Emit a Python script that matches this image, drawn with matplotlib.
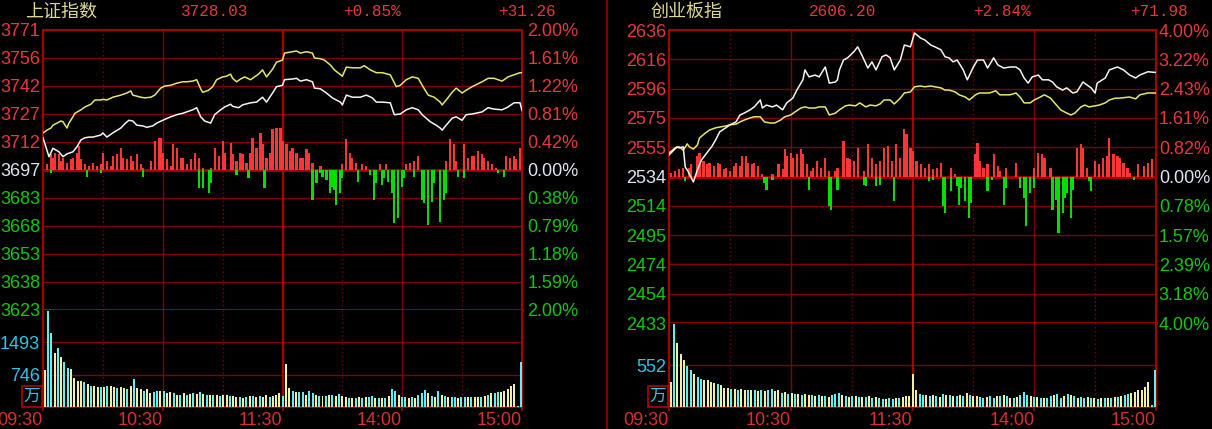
import numpy as np
import matplotlib.pyplot as plt
from matplotlib.lines import Line2D
from matplotlib.patches import Rectangle

plt.rcParams['font.family'] = ['Liberation Sans', 'Noto Sans CJK SC', 'DejaVu Sans']

# ---------------- 上证指数 ----------------
sh_name = '上证指数'
sh_head = ['3728.03', '+0.85%', '+31.26']
sh_left = ['3771', '3756', '3742', '3727', '3712', '3697', '3683', '3668', '3653', '3638', '3623']
sh_right = ['2.00%', '1.61%', '1.22%', '0.81%', '0.42%', '0.00%', '0.38%', '0.79%', '1.18%', '1.59%', '2.00%']
sh_range = 2.0

# index line (minute, % change)
sh_t = [0, 3, 5, 8, 10, 12, 15, 17, 19, 21, 23, 25, 29, 30, 32, 35, 39, 41, 43, 45,
        47, 50, 52, 55, 57, 60, 64, 67, 70, 72, 75, 77, 79, 81, 84, 86, 89, 91, 94, 95,
        98, 100, 104, 107, 110, 112, 115, 117, 120, 121, 125, 127, 129, 132, 135, 136, 139, 142, 145, 149,
        150, 152, 155, 159, 162, 165, 167, 170, 174, 176, 179, 182, 185, 188, 190, 194, 197, 199, 200, 202,
        205, 207, 210, 212, 215, 220, 223, 226, 230, 233, 236, 239, 240]
sh_pct = [0.46, 0.19, 0.31, 0.26, 0.19, 0.23, 0.26, 0.33, 0.43, 0.46, 0.47, 0.47, 0.50, 0.53, 0.47, 0.53, 0.60, 0.66, 0.71, 0.70,
          0.64, 0.63, 0.61, 0.63, 0.67, 0.71, 0.76, 0.79, 0.81, 0.83, 0.86, 0.89, 0.76, 0.70, 0.67, 0.79, 0.86, 0.90, 0.94, 0.91,
          0.89, 0.93, 0.96, 0.97, 1.04, 0.97, 1.10, 1.19, 1.21, 1.29, 1.30, 1.31, 1.27, 1.29, 1.26, 1.17, 1.16, 1.10, 1.03, 0.97,
          0.93, 1.07, 1.04, 1.04, 1.07, 1.03, 0.97, 0.97, 0.96, 0.79, 0.80, 0.86, 0.89, 0.86, 0.79, 0.69, 0.64, 0.60, 0.57, 0.64,
          0.74, 0.76, 0.71, 0.79, 0.80, 0.83, 0.89, 0.87, 0.86, 0.90, 0.96, 0.96, 0.85]
# average line
sh_avg_t = [0, 2, 4, 5, 7, 9, 10, 12, 13, 15, 16, 19, 21, 24, 26, 29, 30, 32, 35, 39,
            42, 44, 45, 49, 51, 54, 56, 59, 61, 64, 67, 70, 72, 75, 77, 79, 80, 83, 85, 87,
            90, 92, 94, 95, 97, 99, 101, 104, 106, 108, 110, 112, 115, 117, 120, 121, 125, 127, 129, 132,
            135, 136, 139, 141, 144, 146, 150, 152, 155, 159, 161, 164, 167, 170, 174, 177, 179, 182, 185, 188,
            190, 193, 196, 199, 200, 202, 205, 207, 210, 212, 215, 220, 223, 226, 230, 233, 236, 239, 240]
sh_avg_pct = [0.53, 0.57, 0.60, 0.64, 0.67, 0.70, 0.69, 0.60, 0.67, 0.76, 0.81, 0.86, 0.90, 0.94, 1.00, 1.00, 1.01, 1.00, 1.04, 1.07,
              1.10, 1.13, 1.07, 1.04, 1.03, 1.04, 1.07, 1.17, 1.20, 1.21, 1.24, 1.26, 1.26, 1.27, 1.29, 1.16, 1.11, 1.14, 1.19, 1.29,
              1.33, 1.34, 1.37, 1.31, 1.26, 1.30, 1.33, 1.29, 1.33, 1.37, 1.43, 1.33, 1.44, 1.54, 1.57, 1.67, 1.69, 1.70, 1.67, 1.69,
              1.67, 1.60, 1.59, 1.57, 1.50, 1.43, 1.34, 1.47, 1.46, 1.46, 1.49, 1.43, 1.39, 1.39, 1.36, 1.19, 1.21, 1.29, 1.33, 1.31,
              1.21, 1.07, 1.04, 0.97, 0.93, 1.00, 1.11, 1.17, 1.10, 1.14, 1.19, 1.26, 1.31, 1.31, 1.27, 1.33, 1.36, 1.39, 1.39]
# red / green strength bars
sh_up_t = [2, 4, 5, 6, 8, 9, 10, 12, 14, 15, 17, 18, 19, 21, 23, 25, 27, 29, 30, 32,
           34, 35, 37, 39, 40, 42, 44, 45, 47, 49, 50, 54, 56, 58, 59, 60, 62, 64, 65, 67,
           69, 70, 72, 74, 76, 78, 80, 84, 86, 88, 90, 91, 94, 95, 97, 99, 100, 102, 104, 105,
           107, 109, 110, 112, 114, 115, 117, 119, 120, 122, 124, 125, 127, 129, 130, 132, 133, 135, 139, 150,
           152, 154, 155, 157, 160, 162, 169, 172, 182, 184, 186, 188, 202, 204, 206, 207, 211, 213, 215, 216,
           218, 220, 221, 223, 225, 227, 232, 234, 236, 237, 239]
sh_up_v = [6, 16, 12, 17, 16, 9, 12, 7, 11, 12, 17, 24, 11, 6, 4, 7, 4, 6, 17, 9,
           4, 14, 16, 22, 12, 11, 14, 9, 16, 6, 2, 9, 29, 32, 32, 17, 11, 4, 26, 22,
           12, 12, 6, 11, 17, 12, 2, 2, 22, 14, 29, 17, 27, 16, 9, 17, 16, 7, 17, 32,
           22, 37, 26, 12, 17, 41, 42, 42, 29, 26, 19, 22, 17, 12, 12, 21, 17, 7, 4, 6,
           31, 17, 12, 7, 6, 4, 6, 6, 6, 7, 9, 14, 9, 31, 26, 9, 26, 12, 14, 14,
           19, 16, 12, 9, 6, 2, 14, 12, 14, 11, 22]
sh_dn_t = [4, 22, 29, 50, 78, 80, 83, 84, 97, 103, 111, 135, 137, 139, 140, 142, 144, 145, 146, 147,
           149, 150, 158, 164, 166, 167, 170, 171, 173, 175, 176, 178, 180, 181, 186, 190, 191, 193, 195, 196,
           199, 201, 202, 208, 211, 228, 231]
sh_dn_v = [-3, -7, -3, -7, -18, -18, -23, -13, -5, -8, -18, -30, -13, -3, -7, -10, -23, -17, -20, -35,
           -23, -8, -12, -5, -30, -13, -15, -8, -12, -23, -53, -48, -17, -8, -7, -30, -33, -55, -32, -13,
           -52, -30, -23, -7, -8, -3, -7]
# volume (万)
sh_vol = [857, 2219, 1714, 1255, 1354, 1163, 1048, 895, 872, 680,
          589, 589, 566, 536, 474, 474, 459, 459, 459, 490,
          490, 459, 436, 459, 436, 413, 474, 643, 436, 413,
          360, 413, 321, 337, 360, 375, 360, 321, 337, 321,
          283, 283, 321, 283, 306, 321, 298, 337, 298, 283,
          283, 283, 283, 260, 283, 283, 260, 245, 230, 222,
          207, 230, 245, 245, 230, 245, 230, 268, 230, 260,
          283, 321, 260, 995, 436, 360, 337, 337, 337, 283,
          360, 321, 283, 245, 245, 260, 283, 283, 245, 298,
          245, 230, 207, 207, 207, 230, 207, 230, 230, 260,
          207, 207, 207, 207, 245, 413, 360, 283, 230, 230,
          207, 230, 207, 283, 321, 383, 321, 260, 230, 360,
          283, 260, 230, 230, 230, 207, 230, 230, 230, 230,
          230, 230, 230, 245, 283, 321, 321, 337, 344, 360,
          413, 474, 536, 15, 1033]
sh_vol_col = ('YCCYCYCCYY' 'YYCYCYYCYC' 'YYCYYCYCYY' 'CYYCCYCYYC' 'YCYCYCYCYC'
              'YCYCYYCYYC' 'YCYCYCYYCY' 'YYCYYCYCCY' 'CCYCYCYCYC' 'YYCYCYCYCC'
              'YCYCYCCYCC' 'YCYCCCYCYC' 'YCYCCYCCYC' 'YYCYCYCCYY' 'YYYCC')
sh_vol_top = 2239
sh_vol_ticks = [1493, 746]

# ---------------- 创业板指 ----------------
cy_name = '创业板指'
cy_head = ['2606.20', '+2.84%', '+71.98']
cy_left = ['2636', '2616', '2596', '2575', '2555', '2534', '2514', '2495', '2474', '2454', '2433']
cy_right = ['4.00%', '3.22%', '2.43%', '1.61%', '0.82%', '0.00%', '0.78%', '1.57%', '2.39%', '3.18%', '4.00%']
cy_range = 4.0

cy_t = [0, 4, 5, 7, 8, 9, 11, 12, 14, 16, 19, 21, 23, 25, 28, 30, 33, 35, 37, 40,
        42, 45, 46, 48, 51, 53, 56, 58, 61, 63, 66, 67, 69, 72, 74, 77, 79, 82, 83, 84,
        86, 88, 91, 93, 95, 98, 100, 102, 105, 107, 109, 111, 114, 116, 119, 121, 124, 126, 129, 131,
        134, 136, 138, 140, 142, 145, 147, 150, 152, 155, 157, 160, 162, 165, 168, 171, 173, 175, 177, 179,
        182, 184, 187, 189, 191, 194, 196, 199, 201, 204, 206, 208, 210, 211, 215, 217, 221, 224, 227, 230,
        232, 236, 240]
cy_pct = [0.59, 0.81, 0.78, 0.81, 0.26, 0.18, -0.04, -0.15, 0.18, 0.45, 0.67, 0.81, 1.00, 1.22, 1.33, 1.41, 1.49, 1.68, 1.73, 1.82,
          1.90, 2.09, 1.87, 1.95, 1.90, 1.95, 1.82, 2.01, 2.14, 2.36, 2.64, 2.91, 2.72, 2.77, 2.72, 2.99, 2.55, 2.58, 2.64, 2.91,
          3.18, 3.24, 3.40, 3.54, 3.32, 2.96, 3.13, 2.91, 3.27, 3.32, 3.24, 2.91, 3.18, 3.59, 3.54, 3.92, 3.78, 3.73, 3.59, 3.54,
          3.46, 3.27, 3.24, 3.13, 3.18, 2.91, 2.64, 2.99, 3.18, 3.18, 2.96, 3.24, 3.05, 2.96, 2.99, 2.99, 2.91, 2.69, 2.55, 2.72,
          2.77, 2.64, 2.64, 2.58, 2.45, 2.36, 2.42, 2.28, 2.31, 2.58, 2.50, 2.42, 2.28, 2.55, 2.69, 2.91, 2.99, 2.91, 2.77, 2.69,
          2.77, 2.86, 2.84]
cy_avg_t = [0, 3, 5, 7, 9, 10, 12, 14, 15, 18, 20, 23, 25, 28, 30, 33, 35, 37, 40, 42,
            45, 47, 50, 52, 55, 57, 60, 62, 65, 67, 69, 72, 74, 77, 79, 82, 84, 87, 89, 92,
            94, 97, 99, 102, 104, 106, 109, 111, 114, 116, 119, 121, 124, 126, 129, 131, 134, 136, 138, 141,
            143, 146, 148, 151, 153, 156, 158, 161, 163, 166, 168, 171, 173, 175, 178, 180, 183, 185, 188, 190,
            193, 195, 198, 200, 203, 205, 207, 210, 212, 215, 217, 220, 222, 227, 230, 232, 236, 240]
cy_avg_pct = [0.64, 0.78, 0.81, 0.72, 0.89, 0.81, 0.75, 0.86, 1.05, 1.19, 1.27, 1.33, 1.35, 1.38, 1.41, 1.43, 1.49, 1.54, 1.60, 1.63,
              1.63, 1.49, 1.46, 1.46, 1.54, 1.63, 1.68, 1.76, 1.87, 1.90, 1.87, 1.87, 1.90, 1.90, 1.68, 1.73, 1.82, 1.93, 1.95, 1.93,
              2.01, 1.90, 1.95, 1.93, 1.98, 2.09, 2.09, 1.98, 2.14, 2.28, 2.31, 2.45, 2.47, 2.45, 2.47, 2.45, 2.42, 2.36, 2.36, 2.31,
              2.23, 2.17, 2.09, 2.23, 2.28, 2.28, 2.28, 2.34, 2.23, 2.23, 2.23, 2.28, 2.17, 2.01, 2.01, 2.09, 2.17, 2.23, 2.14, 2.01,
              1.82, 1.76, 1.68, 1.73, 1.90, 1.95, 1.90, 1.93, 1.95, 2.01, 2.09, 2.14, 2.14, 2.17, 2.12, 2.23, 2.28, 2.28]
cy_up_t = [1, 3, 5, 7, 10, 11, 14, 15, 17, 19, 20, 22, 24, 25, 27, 28, 30, 32, 33, 35,
           36, 38, 39, 41, 42, 44, 46, 51, 54, 56, 57, 58, 60, 61, 63, 65, 66, 68, 70, 71,
           73, 75, 77, 79, 82, 83, 86, 88, 89, 91, 93, 96, 98, 100, 102, 104, 106, 108, 110, 112,
           114, 116, 117, 119, 120, 122, 124, 126, 128, 130, 132, 134, 139, 141, 151, 152, 153, 155, 157, 160,
           162, 163, 166, 171, 180, 182, 184, 185, 188, 201, 203, 204, 206, 210, 212, 214, 216, 217, 219, 221,
           222, 224, 226, 227, 231, 234, 236, 238]
cy_up_v = [4, 6, 8, 9, 9, 13, 21, 24, 16, 13, 14, 11, 14, 13, 8, 9, 6, 11, 14, 11,
           21, 21, 14, 13, 14, 11, 3, 3, 13, 8, 28, 21, 24, 19, 23, 28, 23, 13, 6, 9,
           16, 9, 19, 6, 6, 9, 36, 19, 18, 16, 29, 6, 33, 19, 13, 16, 29, 31, 16, 33,
           19, 48, 43, 29, 26, 16, 13, 9, 13, 8, 9, 14, 9, 3, 23, 34, 16, 9, 13, 23,
           11, 6, 9, 14, 9, 24, 23, 19, 9, 29, 33, 29, 9, 16, 13, 19, 21, 39, 23, 21,
           19, 14, 9, 4, 13, 11, 14, 18]
cy_dn_t = [8, 47, 48, 51, 69, 79, 80, 83, 96, 97, 102, 104, 111, 128, 130, 135, 136, 139, 142, 143,
           144, 146, 148, 149, 157, 159, 165, 166, 173, 175, 176, 178, 180, 189, 191, 192, 194, 195, 196, 198,
           199, 207, 208, 229]
cy_dn_v = [-4, -6, -13, -3, -13, -29, -33, -13, -8, -9, -9, -8, -24, -4, -3, -29, -36, -14, -9, -28,
           -11, -24, -41, -26, -14, -3, -28, -11, -11, -21, -49, -16, -11, -33, -23, -56, -36, -21, -16, -41,
           -13, -4, -14, -3]
cy_vol = [329, 1095, 841, 700, 613, 534, 491, 438, 394, 372,
          350, 350, 329, 315, 298, 285, 254, 250, 241, 241,
          228, 241, 228, 219, 228, 219, 210, 219, 210, 228,
          241, 210, 228, 184, 197, 175, 184, 166, 166, 153,
          175, 153, 153, 140, 153, 140, 140, 131, 153, 175,
          184, 153, 140, 131, 140, 140, 131, 131, 131, 140,
          123, 131, 123, 110, 110, 123, 110, 123, 123, 131,
          140, 140, 438, 219, 175, 153, 153, 140, 153, 140,
          131, 175, 153, 153, 140, 140, 153, 140, 184, 153,
          140, 140, 131, 123, 131, 140, 123, 140, 140, 153,
          140, 123, 123, 131, 153, 197, 153, 140, 131, 131,
          123, 123, 123, 140, 153, 175, 123, 140, 175, 153,
          140, 123, 131, 123, 131, 123, 123, 110, 123, 123,
          123, 123, 131, 131, 140, 153, 175, 184, 197, 219,
          228, 263, 329, 22, 482]
cy_vol_col = ('YCYYYCCYCC' 'YYYYCYYYCY' 'CYYCYCYCYC' 'CYYCYCYCYC' 'YYCYCYCYCC'
              'CYCYCYCYCY' 'CYCCYCCYCY' 'YYYYCCYCYC' 'YCYCYCYCYC' 'YYCCYCCYCY'
              'CYCYCCCYCY' 'CYCCYCCYCY' 'CYCCYCYCYC' 'YCYCYCCYYY' 'YYYCC')
cy_vol_top = 1104
cy_vol_ticks = [552]

times = ['09:30', '10:30', '11:30', '14:00', '15:00']
time_ticks = [0, 60, 120, 180, 240]

# ---------------- style ----------------
W, H = 1212, 429
GRID = '#840000'
STRONG = '#a80000'
RED_TXT = '#e8383a'
GREEN_TXT = '#10c810'
ZERO_TXT = '#dde6f0'
CYAN_TXT = '#30c4e8'
VOL_C = {'Y': '#f2f0a0', 'C': '#5ff2f2'}

fig = plt.figure(figsize=(W / 100, H / 100), dpi=100, facecolor='black')


def rect(x0, y0, x1, y1):
    return [x0 / W, 1 - y1 / H, (x1 - x0) / W, (y1 - y0) / H]


def vgrid(ax):
    for m in [30, 90, 150, 210]:
        ax.axvline(m, color=GRID, lw=1, ls=(0, (1, 2)))
    for m in [60, 180]:
        ax.axvline(m, color=GRID, lw=1)
    ax.axvline(120, color=STRONG, lw=1.6)


def panel(x0, x1, ymid, name, head, head_x, left, right, rng,
          t, pct, avg_t, avg_pct, up_t, up_v, dn_t, dn_v,
          vol, vol_col, vol_top, vol_ticks, rpad):
    ytop, ybot = 30, 407
    levels = np.linspace(-rng, rng, 11)
    lab_col = [GREEN_TXT] * 5 + [ZERO_TXT] + [RED_TXT] * 5

    # price frame
    ax = fig.add_axes(rect(x0, ytop, x1, ymid))
    ax.set_facecolor('black')
    ax.set_xlim(0, 240)
    ax.set_ylim(-rng, rng)
    ax.set_xticks([])
    ax.set_yticks(levels)
    ax.set_yticklabels(left[::-1], fontsize=13)
    for lab, c in zip(ax.get_yticklabels(), lab_col):
        lab.set_color(c)
    ax.tick_params(axis='y', length=0, pad=2)
    for lv in levels[1:-1]:
        ax.axhline(lv, color=GRID, lw=1)
    ax.axhline(0, color=STRONG, lw=2)
    vgrid(ax)
    for s in ['left', 'right', 'top']:
        ax.spines[s].set_color(STRONG)
        ax.spines[s].set_linewidth(1.5)
    ax.spines['bottom'].set_color(STRONG)
    ax.spines['bottom'].set_linewidth(2)
    sec = ax.secondary_yaxis('right')
    sec.set_yticks(levels)
    sec.set_yticklabels(right[::-1], fontsize=13)
    for lab, c in zip(sec.get_yticklabels(), lab_col):
        lab.set_color(c)
    sec.tick_params(axis='y', length=0, pad=rpad)
    sec.spines['right'].set_visible(False)

    # strength bars, one unit per pixel
    half = (ymid - ytop) / 2
    axb = fig.add_axes(rect(x0, ytop, x1, ymid), sharex=ax)
    axb.set_ylim(-half, half)
    axb.axis('off')
    axb.bar(up_t, up_v, width=1.1, color='#ff3434', linewidth=0)
    axb.bar(dn_t, dn_v, width=1.1, color='#00e000', linewidth=0)

    # index and average lines
    axl = fig.add_axes(rect(x0, ytop, x1, ymid), sharex=ax)
    axl.set_ylim(-rng, rng)
    axl.axis('off')
    axl.plot(avg_t, avg_pct, color='#e6e66a', lw=1.1)
    axl.plot(t, pct, color='#f4f4f4', lw=1.1)

    # volume
    axv = fig.add_axes(rect(x0, ymid, x1, ybot))
    axv.set_facecolor('black')
    axv.set_xlim(0, 240)
    axv.set_ylim(0, vol_top)
    vt = np.linspace(0.8, 239.5, len(vol))
    axv.bar(vt, vol, width=1.0, color=[VOL_C[c] for c in vol_col], linewidth=0, zorder=3)
    axv.set_yticks(vol_ticks)
    axv.set_yticklabels([str(v) for v in vol_ticks], fontsize=13, color=CYAN_TXT)
    axv.tick_params(axis='y', length=0, pad=2)
    for v in vol_ticks:
        axv.axhline(v, color=GRID, lw=1, zorder=1)
    vgrid(axv)
    axv.set_xticks(time_ticks)
    axv.set_xticklabels(times, fontsize=13, color='#d83030', ha='right')
    axv.tick_params(axis='x', length=3, width=1.2, color=STRONG, pad=0.5)
    for s in ['left', 'right', 'bottom']:
        axv.spines[s].set_color(STRONG)
        axv.spines[s].set_linewidth(1.5)
    axv.spines['top'].set_visible(False)

    # header texts
    fig.text((x0 - 18) / W, 1 - 12 / H, name, color='#dcd890', fontsize=13,
             family=['Noto Sans CJK SC'], ha='left', va='center')
    for txt, hx in zip(head, head_x):
        fig.text(hx / W, 1 - 12 / H, txt, color=RED_TXT, fontsize=11.5,
                 family=['Liberation Mono'], ha='center', va='center')

    # 万 box
    fig.add_artist(Rectangle(((x0 - 21) / W, 1 - 407 / H), 20 / W, 21 / H,
                             transform=fig.transFigure, fill=False,
                             edgecolor=STRONG, lw=1.3))
    fig.text((x0 - 11) / W, 1 - 396.5 / H, '万', color=CYAN_TXT, fontsize=12,
             family=['Noto Sans CJK SC'], ha='center', va='center')


panel(43, 522, 310, sh_name, sh_head, [215, 372, 527], sh_left, sh_right, sh_range,
      sh_t, sh_pct, sh_avg_t, sh_avg_pct, sh_up_t, sh_up_v, sh_dn_t, sh_dn_v,
      sh_vol, sh_vol_col, sh_vol_top, sh_vol_ticks, 4)
panel(669, 1156, 323, cy_name, cy_head, [843, 1002, 1159], cy_left, cy_right, cy_range,
      cy_t, cy_pct, cy_avg_t, cy_avg_pct, cy_up_t, cy_up_v, cy_dn_t, cy_dn_v,
      cy_vol, cy_vol_col, cy_vol_top, cy_vol_ticks, 2)

# divider between the two panels
fig.add_artist(Line2D([607 / W, 607 / W], [0, 1], color=GRID, lw=1.5,
                      transform=fig.transFigure))

fig.savefig('out.png', dpi=100, facecolor='black')
